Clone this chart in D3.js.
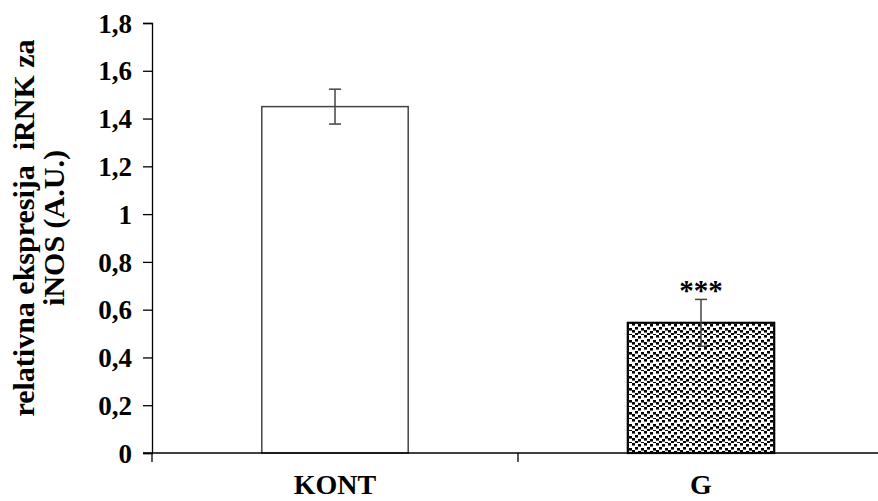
<!DOCTYPE html>
<html>
<head>
<meta charset="utf-8">
<script src="https://cdn.jsdelivr.net/npm/d3@7"></script>
<style>
  body { margin: 0; background: #fff; }
  text { font-family: "Liberation Serif", "Times New Roman", serif; font-weight: bold; }
</style>
</head>
<body>
<div id="chart"></div>
<script>
const categories = ["KONT", "G"];
const values = [1.45, 0.545];
const errors = [0.073, 0.098];
const marks = ["", "***"];
const yTicks = [0, 0.2, 0.4, 0.6, 0.8, 1, 1.2, 1.4, 1.6, 1.8];
const yTitle = ["relativna ekspresija  iRNK za", "iNOS (A.U.)"];

const width = 878, height = 501;
const margin = {top: 23, right: -6, bottom: 48, left: 152};
const innerWidth = width - margin.left - margin.right;
const innerHeight = height - margin.top - margin.bottom;

const svg = d3.select("#chart")
  .append("svg")
    .attr("width", width)
    .attr("height", height);

// confetti fill for the second bar
const defs = svg.append("defs");
const pat = defs.append("pattern")
  .attr("id", "confetti")
  .attr("patternUnits", "userSpaceOnUse")
  .attr("width", 12).attr("height", 12);
pat.append("rect").attr("width", 12).attr("height", 12).attr("fill", "#fff");
[[0, 0], [6, 1], [3, 4], [9, 5], [0, 7], [6, 8], [3, 10], [9, 11]].forEach(([px, py]) => {
  pat.append("rect")
    .attr("x", px).attr("y", py)
    .attr("width", 3).attr("height", 2.6)
    .attr("fill", "#000");
});

const g = svg.append("g")
  .attr("transform", `translate(${margin.left},${margin.top})`);

const x = d3.scaleBand()
  .domain(categories)
  .range([0, innerWidth])
  .paddingInner(0.6)
  .paddingOuter(0.3);

// band boundaries for the category tick marks
const step = innerWidth / categories.length;

const y = d3.scaleLinear()
  .domain([0, 1.8])
  .range([innerHeight, 0]);

// bars
g.selectAll(".bar")
  .data(categories)
  .join("rect")
    .attr("class", "bar")
    .attr("x", d => x(d))
    .attr("y", (d, i) => y(values[i]))
    .attr("width", x.bandwidth())
    .attr("height", (d, i) => innerHeight - y(values[i]))
    .attr("fill", (d, i) => i === 1 ? "url(#confetti)" : "#fff")
    .attr("stroke", (d, i) => i === 1 ? "#000" : "#444")
    .attr("stroke-width", (d, i) => i === 1 ? 2.2 : 1.5);

// error bars
const err = g.selectAll(".err")
  .data(categories)
  .join("g")
    .attr("class", "err")
    .attr("stroke", "#444")
    .attr("stroke-width", 1.5);
err.append("line")
  .attr("x1", d => x(d) + x.bandwidth() / 2)
  .attr("x2", d => x(d) + x.bandwidth() / 2)
  .attr("y1", (d, i) => y(values[i] + errors[i]))
  .attr("y2", (d, i) => y(values[i] - errors[i]));
[1, -1].forEach(s => {
  err.append("line")
    .attr("x1", d => x(d) + x.bandwidth() / 2 - 6)
    .attr("x2", d => x(d) + x.bandwidth() / 2 + 6)
    .attr("y1", (d, i) => y(values[i] + s * errors[i]))
    .attr("y2", (d, i) => y(values[i] + s * errors[i]));
});

// significance marks
g.selectAll(".mark")
  .data(categories)
  .join("text")
    .attr("class", "mark")
    .attr("x", d => x(d) + x.bandwidth() / 2)
    .attr("y", (d, i) => y(values[i] + errors[i]) + 1)
    .attr("text-anchor", "middle")
    .attr("font-size", 29)
    .text((d, i) => marks[i]);

// y axis
const yAxis = g.append("g")
  .call(d3.axisLeft(y)
    .tickValues(yTicks)
    .tickSize(9)
    .tickPadding(11)
    .tickFormat(d => d3.format("")(d).replace(".", ",")));
yAxis.select(".domain").attr("stroke", "#000").attr("stroke-width", 1.3);
yAxis.selectAll(".tick line").attr("stroke", "#000").attr("stroke-width", 1.3);
yAxis.selectAll(".tick text")
  .attr("font-size", 27)
  .attr("fill", "#000")
  .attr("dy", "0.34em")
  .style("font-family", "Liberation Serif, serif")
  .style("font-weight", "bold");

// x axis
const xAxisG = g.append("g").attr("transform", `translate(0,${innerHeight})`);
xAxisG.append("line")
  .attr("x1", -9).attr("x2", innerWidth + 10)
  .attr("stroke", "#000").attr("stroke-width", 1.3);
xAxisG.selectAll(".ctick")
  .data(d3.range(categories.length + 1))
  .join("line")
    .attr("class", "ctick")
    .attr("x1", d => d * step).attr("x2", d => d * step)
    .attr("y1", 0).attr("y2", 9)
    .attr("stroke", "#000").attr("stroke-width", 1.3);
xAxisG.selectAll(".clabel")
  .data(categories)
  .join("text")
    .attr("class", "clabel")
    .attr("x", d => x(d) + x.bandwidth() / 2)
    .attr("y", 41)
    .attr("text-anchor", "middle")
    .attr("font-size", 28)
    .text(d => d);

// y title
const title = svg.append("text")
  .attr("transform", `translate(34,228) rotate(-90)`)
  .attr("text-anchor", "middle")
  .attr("font-size", 30);
yTitle.forEach((line, i) => {
  title.append("tspan")
    .attr("x", 0)
    .attr("dy", i === 0 ? 0 : 30)
    .attr("xml:space", "preserve")
    .style("white-space", "pre")
    .text(line);
});
</script>
</body>
</html>
